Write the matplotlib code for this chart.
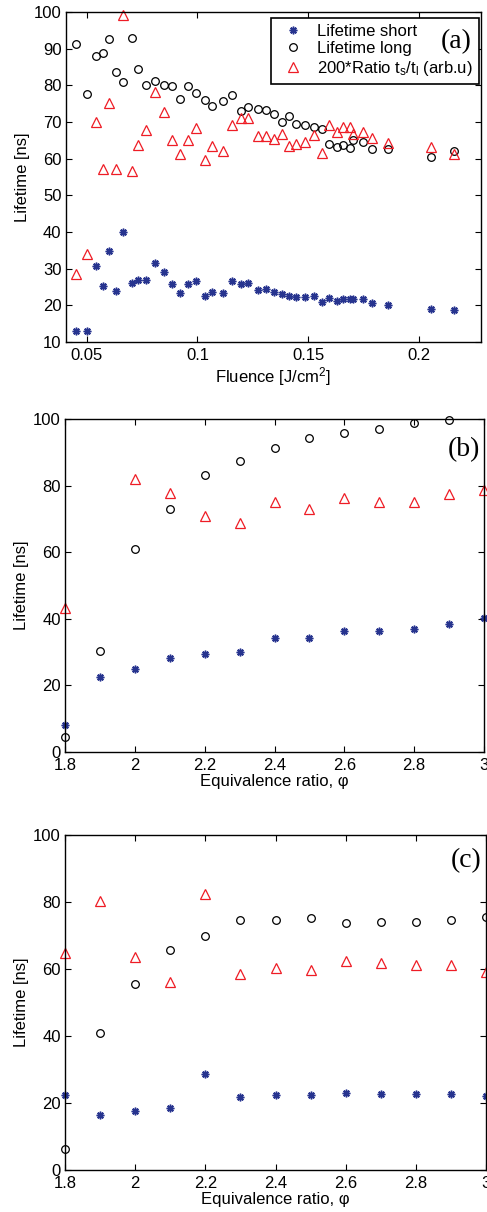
import matplotlib
matplotlib.use('Agg')
import matplotlib.pyplot as plt
import numpy as np

# panel (a): lifetimes vs fluence
fluence = [0.0452, 0.0500, 0.0543, 0.0572, 0.0600, 0.0633, 0.0662, 0.0703, 0.0732, 0.0767,
           0.0806, 0.0851, 0.0887, 0.0922, 0.0956, 0.0995, 0.1034, 0.1066, 0.1114, 0.1158,
           0.1196, 0.1230, 0.1273, 0.1309, 0.1345, 0.1381, 0.1411, 0.1446, 0.1486, 0.1524,
           0.1561, 0.1596, 0.1631, 0.1656, 0.1687, 0.1703, 0.1746, 0.1787, 0.1862, 0.2054, 0.2156]
short_a = [13.0, 13.0, 30.6, 25.3, 34.7, 23.8, 40.1, 26.2, 26.8, 27.0,
           31.6, 29.0, 25.7, 23.4, 25.7, 26.6, 22.6, 23.6, 23.4, 26.6,
           25.7, 26.1, 24.3, 24.4, 23.5, 23.2, 22.6, 22.2, 22.4, 22.6,
           20.8, 22.0, 21.2, 21.7, 21.7, 21.7, 21.7, 20.5, 20.1, 19.1, 18.8]
long_a = [91.2, 77.6, 87.9, 88.7, 92.6, 83.6, 80.8, 92.8, 84.5, 80.1,
          81.1, 80.1, 79.8, 76.3, 79.7, 78.0, 76.1, 74.4, 75.7, 77.3,
          72.9, 74.0, 73.6, 73.4, 72.3, 70.1, 71.6, 69.5, 69.1, 68.6,
          68.2, 63.9, 63.3, 63.7, 63.0, 65.1, 64.5, 62.7, 62.6, 60.5, 62.1]
ratio_a = [28.5, 33.9, 69.9, 57.1, 75.3, 57.1, 99.3, 56.6, 63.6, 67.7,
           78.3, 72.6, 65.0, 61.4, 65.0, 68.4, 59.5, 63.5, 62.0, 69.1,
           71.0, 71.0, 66.2, 66.2, 65.3, 66.6, 63.5, 64.0, 64.6, 66.4,
           61.5, 69.1, 67.2, 68.7, 68.7, 66.6, 67.2, 65.6, 64.4, 63.3, 61.2]

# panels (b) and (c): lifetimes vs equivalence ratio
phi = [1.8, 1.9, 2.0, 2.1, 2.2, 2.3, 2.4, 2.5, 2.6, 2.7, 2.8, 2.9, 3.0]
short_b = [8.0, 22.4, 24.9, 28.3, 29.4, 30.0, 34.3, 34.3, 36.3, 36.3, 36.8, 38.5, 40.2]
long_b = [4.6, 30.4, 60.9, 73.0, 83.2, 87.4, 91.4, 94.3, 95.9, 97.1, 98.8, 99.7, 102.2]
ratio_b = [43.1, 147.0, 82.0, 77.8, 70.8, 68.9, 75.2, 73.0, 76.2, 75.0, 75.0, 77.4, 78.7]
short_c = [22.4, 16.3, 17.6, 18.4, 28.7, 21.8, 22.3, 22.3, 22.9, 22.8, 22.6, 22.8, 22.1]
long_c = [6.3, 41.0, 55.5, 65.7, 69.9, 74.6, 74.6, 75.1, 73.6, 73.9, 74.1, 74.6, 75.6]
ratio_c = [64.8, 80.3, 63.5, 56.2, 82.3, 58.5, 60.2, 59.7, 62.4, 61.7, 61.2, 61.2, 59.0]

legend_labels = ['Lifetime short', 'Lifetime long',
                 r'200*Ratio t$_\mathregular{s}$/t$_\mathregular{l}$ (arb.u)']
phi_ticks = [1.8, 2.0, 2.2, 2.4, 2.6, 2.8, 3.0]
phi_ticklabels = ['1.8', '2', '2.2', '2.4', '2.6', '2.8', '3']

plt.rcParams.update({
    'font.family': ['Liberation Sans', 'DejaVu Sans'],
    'font.size': 12,
    'mathtext.fontset': 'custom',
    'mathtext.rm': 'Liberation Sans',
    'mathtext.it': 'Liberation Sans:italic',
    'axes.linewidth': 1.0,
    'xtick.direction': 'in',
    'ytick.direction': 'in',
    'xtick.top': True,
    'ytick.right': True,
    'xtick.major.size': 4,
    'ytick.major.size': 4,
    'xtick.major.width': 0.8,
    'ytick.major.width': 0.8,
    'xtick.major.pad': 4,
    'ytick.major.pad': 3,
    'xtick.labelsize': 12,
    'ytick.labelsize': 12,
    'axes.labelsize': 12,
})

BLUE = '#27348f'
RED = '#ee1c25'
STAR = (8, 2, 0)


def inside(x, y, ylim):
    # matlab drops markers whose centre is outside the box, but not the edge ones
    x = np.asarray(x, dtype=float)
    y = np.asarray(y, dtype=float)
    y = np.where((y >= ylim[0]) & (y <= ylim[1]), y, np.nan)
    return x, y


def draw(ax, x, short, long_, ratio, ylim):
    for data, kw in ((short, dict(marker=STAR, color=BLUE, ms=5.5, mew=1.1)),
                     (long_, dict(marker='o', mfc='none', mec='k', ms=5.5, mew=0.9)),
                     (ratio, dict(marker='^', mfc='none', mec=RED, ms=6.5, mew=0.9))):
        xx, yy = inside(x, data, ylim)
        ax.plot(xx, yy, linestyle='none', clip_on=False, **kw)
    ax.set_ylim(*ylim)


fig = plt.figure(figsize=(4.87, 12.12), dpi=100)

ax_a = fig.add_axes([65.7 / 487, 1 - 342 / 1212, (481 - 65.7) / 487, 330 / 1212])
draw(ax_a, fluence, short_a, long_a, ratio_a, (10, 100))
ax_a.set_xlim(0.0405, 0.228)
ax_a.set_xticks([0.05, 0.1, 0.15, 0.2])
ax_a.set_xticklabels(['0.05', '0.1', '0.15', '0.2'])
ax_a.set_yticks(np.arange(10, 101, 10))
ax_a.set_xlabel(r'Fluence [J/cm$^\mathregular{2}$]', labelpad=2)
ax_a.set_ylabel('Lifetime [ns]', labelpad=3)
leg = ax_a.legend(ax_a.lines, legend_labels, loc='upper right', bbox_to_anchor=(0.995, 0.982),
                  fontsize=12, frameon=True, fancybox=False, framealpha=1.0, edgecolor='k',
                  borderpad=0.35, handletextpad=0.45, labelspacing=0.15, handlelength=2.0,
                  borderaxespad=0.0)
leg.get_frame().set_linewidth(1.2)
ax_a.text(0.978, 0.909, '(a)', transform=ax_a.transAxes, ha='right', va='center',
          family='Liberation Serif', fontsize=20, zorder=10)

ax_b = fig.add_axes([65 / 487, 1 - 752 / 1212, (484 - 65) / 487, 333 / 1212])
draw(ax_b, phi, short_b, long_b, ratio_b, (0, 100))
ax_b.set_xlim(1.8, 3.0)
ax_b.set_xticks(phi_ticks)
ax_b.set_xticklabels(phi_ticklabels)
ax_b.set_yticks(np.arange(0, 101, 20))
ax_b.set_xlabel('Equivalence ratio, φ', labelpad=1)
ax_b.set_ylabel('Lifetime [ns]', labelpad=3)
ax_b.text(0.99, 0.907, '(b)', transform=ax_b.transAxes, ha='right', va='center',
          family='Liberation Serif', fontsize=20, zorder=10)

ax_c = fig.add_axes([65 / 487, 1 - 1170 / 1212, (486 - 65) / 487, 335 / 1212])
draw(ax_c, phi, short_c, long_c, ratio_c, (0, 100))
ax_c.set_xlim(1.8, 3.0)
ax_c.set_xticks(phi_ticks)
ax_c.set_xticklabels(phi_ticklabels)
ax_c.set_yticks(np.arange(0, 101, 20))
ax_c.set_xlabel('Equivalence ratio, φ', labelpad=1)
ax_c.set_ylabel('Lifetime [ns]', labelpad=3)
ax_c.text(0.99, 0.925, '(c)', transform=ax_c.transAxes, ha='right', va='center',
          family='Liberation Serif', fontsize=20, zorder=10)

fig.savefig('out.png', dpi=100)
plt.close(fig)
